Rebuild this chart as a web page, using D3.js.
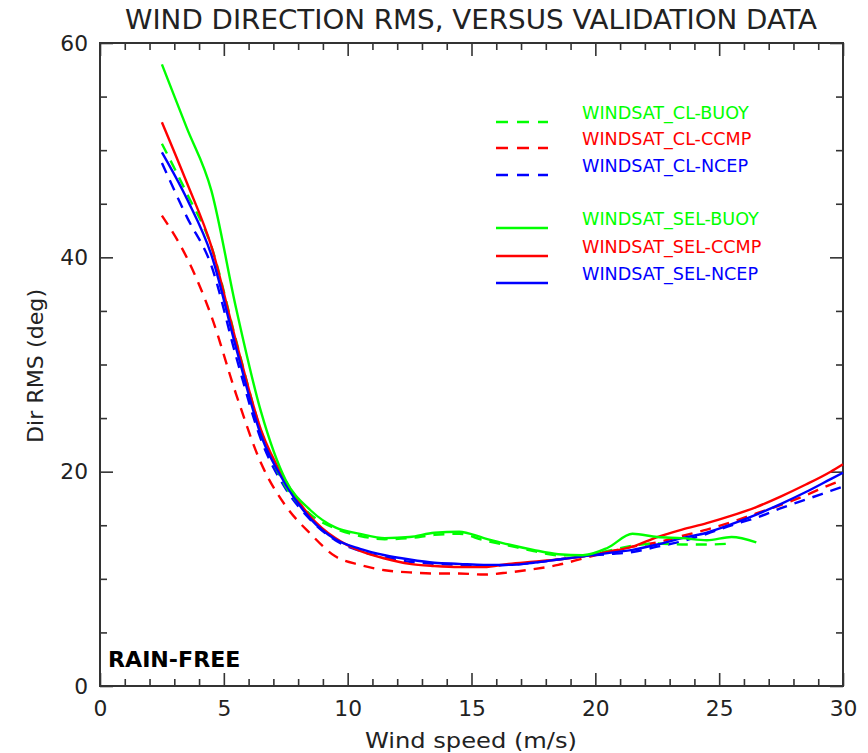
<!DOCTYPE html>
<html>
<head>
<meta charset="utf-8">
<script src="https://cdn.jsdelivr.net/npm/d3@7"></script>
<style>
  body { margin: 0; background: #fff; }
  text { font-family: "Liberation Sans Narrow", "DejaVu Sans Condensed", "Liberation Sans", sans-serif; }
</style>
</head>
<body>
<svg id="chart" width="868" height="753"></svg>
<script>
// wind speed bins (m/s)
const windSpeed = [2.5, 3.5, 4.5, 5.5, 6.5, 7.5, 8.5, 9.5, 10.5, 11.5, 12.5, 13.5, 14.5, 15.5, 16.5,
  17.5, 18.5, 19.5, 20.5, 21.5, 22.5, 23.5, 24.5, 25.5, 26.5, 27.5, 28.5, 29.5, 30];

// direction RMS (deg), null = no data
const clBuoy = [50.6, 46.0, 41.0, 32.2, 23.8, 18.6, 16.0, 14.7, 14.0, 13.7, 13.8, 14.1, 14.2, 13.6, 13.1,
  12.6, 12.2, 12.2, 12.6, 13.1, 13.3, 13.2, 13.2, 13.3, null, null, null, null, null];
const clCcmp = [43.9, 40.0, 34.5, 27.2, 20.8, 16.8, 14.2, 12.1, 11.3, 10.8, 10.6, 10.5, 10.5, 10.4, 10.6,
  10.9, 11.3, 11.9, 12.5, 13.0, 13.4, 14.0, 14.6, 15.3, 16.1, 16.9, 17.8, 18.8, 19.2];
const clNcep = [48.8, 43.8, 39.2, 30.7, 23.0, 18.4, 15.5, 13.6, 12.6, 12.0, 11.6, 11.4, 11.3, 11.2, 11.3,
  11.5, 11.8, 12.1, 12.3, 12.5, 13.0, 13.5, 14.2, 15.0, 15.7, 16.6, 17.4, 18.2, 18.6];
const selBuoy = [58.0, 52.1, 46.2, 35.2, 25.6, 19.2, 16.4, 14.8, 14.2, 13.8, 13.9, 14.3, 14.4, 13.8, 13.2,
  12.7, 12.3, 12.2, 12.9, 14.2, 13.9, 13.8, 13.6, 13.9, 13.4, null, null, null, null];
const selCcmp = [52.6, 47.0, 41.0, 32.1, 23.9, 19.1, 15.8, 13.8, 12.6, 11.9, 11.4, 11.2, 11.1, 11.1, 11.4,
  11.6, 11.8, 12.1, 12.5, 13.0, 13.9, 14.6, 15.2, 15.9, 16.7, 17.7, 18.8, 20.0, 20.7];
const selNcep = [49.8, 45.5, 40.2, 31.5, 23.4, 18.8, 15.6, 13.7, 12.8, 12.2, 11.8, 11.5, 11.4, 11.3, 11.3,
  11.5, 11.8, 12.1, 12.4, 12.7, 13.2, 13.8, 14.3, 15.1, 16.0, 17.0, 18.1, 19.3, 19.9];

const seriesNames = ['WINDSAT_CL-BUOY', 'WINDSAT_CL-CCMP', 'WINDSAT_CL-NCEP',
  'WINDSAT_SEL-BUOY', 'WINDSAT_SEL-CCMP', 'WINDSAT_SEL-NCEP'];
const seriesValues = [clBuoy, clCcmp, clNcep, selBuoy, selCcmp, selNcep];
const seriesColors = ['#00ff00', '#ff0000', '#0000ff', '#00ff00', '#ff0000', '#0000ff'];
const seriesDashed = [true, true, true, false, false, false];

const xTicks = [0, 5, 10, 15, 20, 25, 30];
const yTicks = [0, 20, 40, 60];

const svg = d3.select('#chart');
const margin = { top: 43, right: 25, bottom: 67, left: 100 };
const width = 868 - margin.left - margin.right;
const height = 753 - margin.top - margin.bottom;
const axisColor = '#333';

const g = svg.append('g').attr('transform', `translate(${margin.left},${margin.top})`);

const x = d3.scaleLinear().domain([0, 30]).range([0, width]);
const y = d3.scaleLinear().domain([0, 60]).range([height, 0]);

const xMinor = d3.range(0, 31, 1).filter(v => v % 5 !== 0);
const yMinor = d3.range(0, 61, 5).filter(v => v % 20 !== 0);

// the original uses a wide stroke font; widen our glyphs to match
function stretch(sel, factor) {
  sel.each(function () {
    const w = this.getComputedTextLength();
    d3.select(this).attr('textLength', w * factor).attr('lengthAdjust', 'spacingAndGlyphs');
  });
}

function styleAxis(sel, fontSize) {
  sel.select('.domain').remove();
  sel.selectAll('line').attr('stroke', axisColor).attr('stroke-width', 1.6);
  sel.selectAll('text').attr('fill', '#222').style('font-size', fontSize + 'px');
}

// bottom
g.append('g').attr('transform', `translate(0,${height})`)
  .call(d3.axisBottom(x).tickValues(xTicks).tickSize(-13).tickPadding(14).tickFormat(d3.format('d')))
  .call(s => styleAxis(s, 22))
  .call(s => stretch(s.selectAll('text'), 1.1));
g.append('g').attr('transform', `translate(0,${height})`)
  .call(d3.axisBottom(x).tickValues(xMinor).tickSize(-7).tickFormat(''))
  .call(s => styleAxis(s, 0));
// top
g.append('g')
  .call(d3.axisTop(x).tickValues(xTicks).tickSize(-13).tickFormat(''))
  .call(s => styleAxis(s, 0));
g.append('g')
  .call(d3.axisTop(x).tickValues(xMinor).tickSize(-7).tickFormat(''))
  .call(s => styleAxis(s, 0));
// left
g.append('g')
  .call(d3.axisLeft(y).tickValues(yTicks).tickSize(-13).tickPadding(12).tickFormat(d3.format('d')))
  .call(s => styleAxis(s, 22))
  .call(s => stretch(s.selectAll('text'), 1.1));
g.append('g')
  .call(d3.axisLeft(y).tickValues(yMinor).tickSize(-7).tickFormat(''))
  .call(s => styleAxis(s, 0));
// right
g.append('g').attr('transform', `translate(${width},0)`)
  .call(d3.axisRight(y).tickValues(yTicks).tickSize(-13).tickFormat(''))
  .call(s => styleAxis(s, 0));
g.append('g').attr('transform', `translate(${width},0)`)
  .call(d3.axisRight(y).tickValues(yMinor).tickSize(-7).tickFormat(''))
  .call(s => styleAxis(s, 0));

g.append('rect')
  .attr('width', width).attr('height', height)
  .attr('fill', 'none').attr('stroke', axisColor).attr('stroke-width', 2);

// curves
const line = d3.line()
  .defined(d => d[1] != null)
  .x(d => x(d[0]))
  .y(d => y(d[1]))
  .curve(d3.curveMonotoneX);

// draw dashed first so solid lines sit on top
const order = [1, 2, 0, 4, 5, 3];
order.forEach(i => {
  g.append('path')
    .datum(windSpeed.map((w, j) => [w, seriesValues[i][j]]))
    .attr('fill', 'none')
    .attr('stroke', seriesColors[i])
    .attr('stroke-width', 2.4)
    .attr('stroke-dasharray', seriesDashed[i] ? '11,8' : null)
    .attr('d', line);
});

// legend
const legendRows = [122, 148, 175, 228, 256, 283];
const legend = svg.append('g');
seriesNames.forEach((name, i) => {
  legend.append('line')
    .attr('x1', 496).attr('x2', 548)
    .attr('y1', legendRows[i]).attr('y2', legendRows[i])
    .attr('stroke', seriesColors[i])
    .attr('stroke-width', 2.6)
    .attr('stroke-dasharray', seriesDashed[i] ? '12,9' : null);
  legend.append('text')
    .attr('x', 582).attr('y', legendRows[i] - 3)
    .attr('fill', seriesColors[i])
    .style('font-size', '17px')
    .text(name)
    .call(s => stretch(s, 1.15));
});

// titles
svg.append('text')
  .attr('x', 471).attr('y', 29)
  .attr('text-anchor', 'middle')
  .attr('textLength', 692).attr('lengthAdjust', 'spacingAndGlyphs')
  .attr('fill', '#222')
  .style('font-size', '27px')
  .text('WIND DIRECTION RMS, VERSUS VALIDATION DATA');

svg.append('text')
  .attr('x', 471).attr('y', 748)
  .attr('text-anchor', 'middle')
  .attr('fill', '#222')
  .style('font-size', '22px')
  .text('Wind speed (m/s)')
  .call(s => stretch(s, 1.22));

svg.append('text')
  .attr('transform', 'translate(43,366) rotate(-90)')
  .attr('text-anchor', 'middle')
  .attr('fill', '#222')
  .style('font-size', '22px')
  .text('Dir RMS (deg)')
  .call(s => stretch(s, 1.12));

svg.append('text')
  .attr('x', 108).attr('y', 667)
  .attr('fill', '#000')
  .style('font-size', '21px')
  .style('font-weight', 'bold')
  .text('RAIN-FREE')
  .call(s => stretch(s, 1.17));
</script>
</body>
</html>
